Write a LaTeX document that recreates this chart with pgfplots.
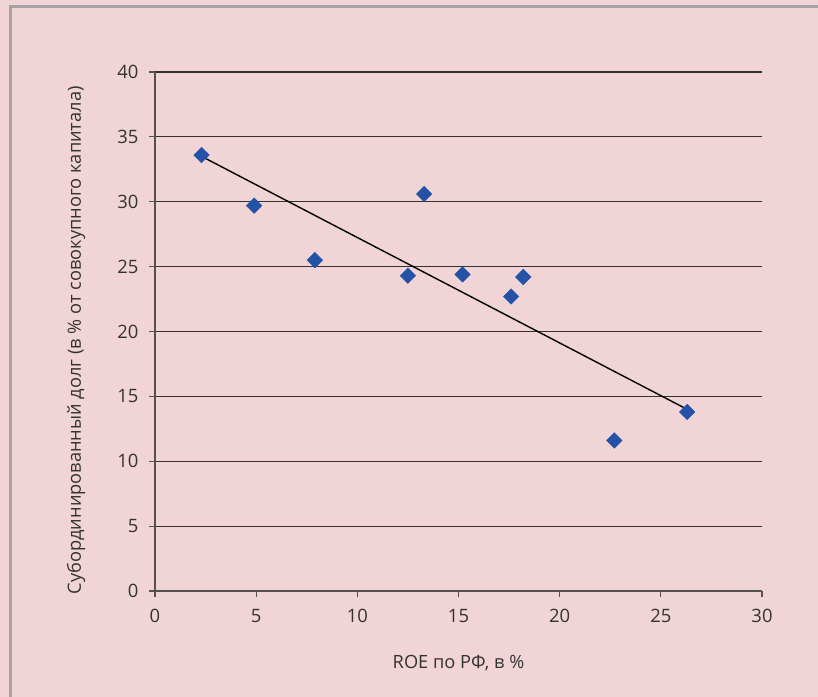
\documentclass[border=0pt]{standalone}
\usepackage{pgfplots}
\pgfplotsset{compat=1.18}
\usepackage{fontspec}
\setmainfont{Open Sans}
\definecolor{bgpink}{HTML}{F0D4D6}
\definecolor{framegray}{HTML}{A3A3A3}
\definecolor{txtgray}{HTML}{333333}
\definecolor{markblue}{HTML}{2452A6}
\begin{document}
\begin{tikzpicture}
  \path[use as bounding box] (0,0) rectangle (818bp,697bp);
  \fill[bgpink] (0,0) rectangle (818bp,697bp);
  \draw[framegray, line width=3bp] (10bp,0) -- (10bp,690.5bp) -- (818bp,690.5bp);
  \begin{axis}[
    at={(155bp,106bp)}, anchor=south west,
    scale only axis,
    width=607bp, height=519bp,
    xmin=0, xmax=30, ymin=0, ymax=40,
    xtick={0,5,...,30}, ytick={0,5,...,40},
    axis x line=bottom, axis y line=left,
    axis line style={-, draw=txtgray!85, line width=1.3bp},
    tick align=outside,
    major tick length=6bp,
    tick style={draw=txtgray!85, line width=1.1bp},
    ymajorgrids=true,
    grid style={draw=txtgray, line width=1.1bp},
    /pgf/number format/assume math mode=true,
    tick label style={font=\fontsize{18.5}{22}\selectfont, text=txtgray},
    xticklabel style={yshift=-9bp},
    yticklabel style={xshift=-7bp},
    label style={font=\fontsize{18.3}{22}\selectfont, text=txtgray},
    xlabel={ROE по РФ, в \%},
    ylabel={Субординированный долг (в \% от совокупного капитала)},
    xlabel style={at={(axis description cs:0.5,-0.139)}, anchor=center},
    ylabel style={at={(axis description cs:-0.130,0.483)}, anchor=center},
    clip=false,
  ]
    \addplot[only marks, mark=square*, mark size=5.5bp,
      mark options={rotate=45, fill=markblue, draw=markblue}]
      coordinates {
        (2.3,33.6) (4.9,29.7) (7.9,25.5) (12.5,24.3) (13.3,30.6)
        (15.2,24.4) (17.6,22.7) (18.2,24.2) (22.7,11.6) (26.3,13.8)
      };
    \addplot[black, line width=1.4bp, no marks]
      coordinates {(2.3,33.5) (26.3,14.0)};
  \end{axis}
\end{tikzpicture}
\end{document}
